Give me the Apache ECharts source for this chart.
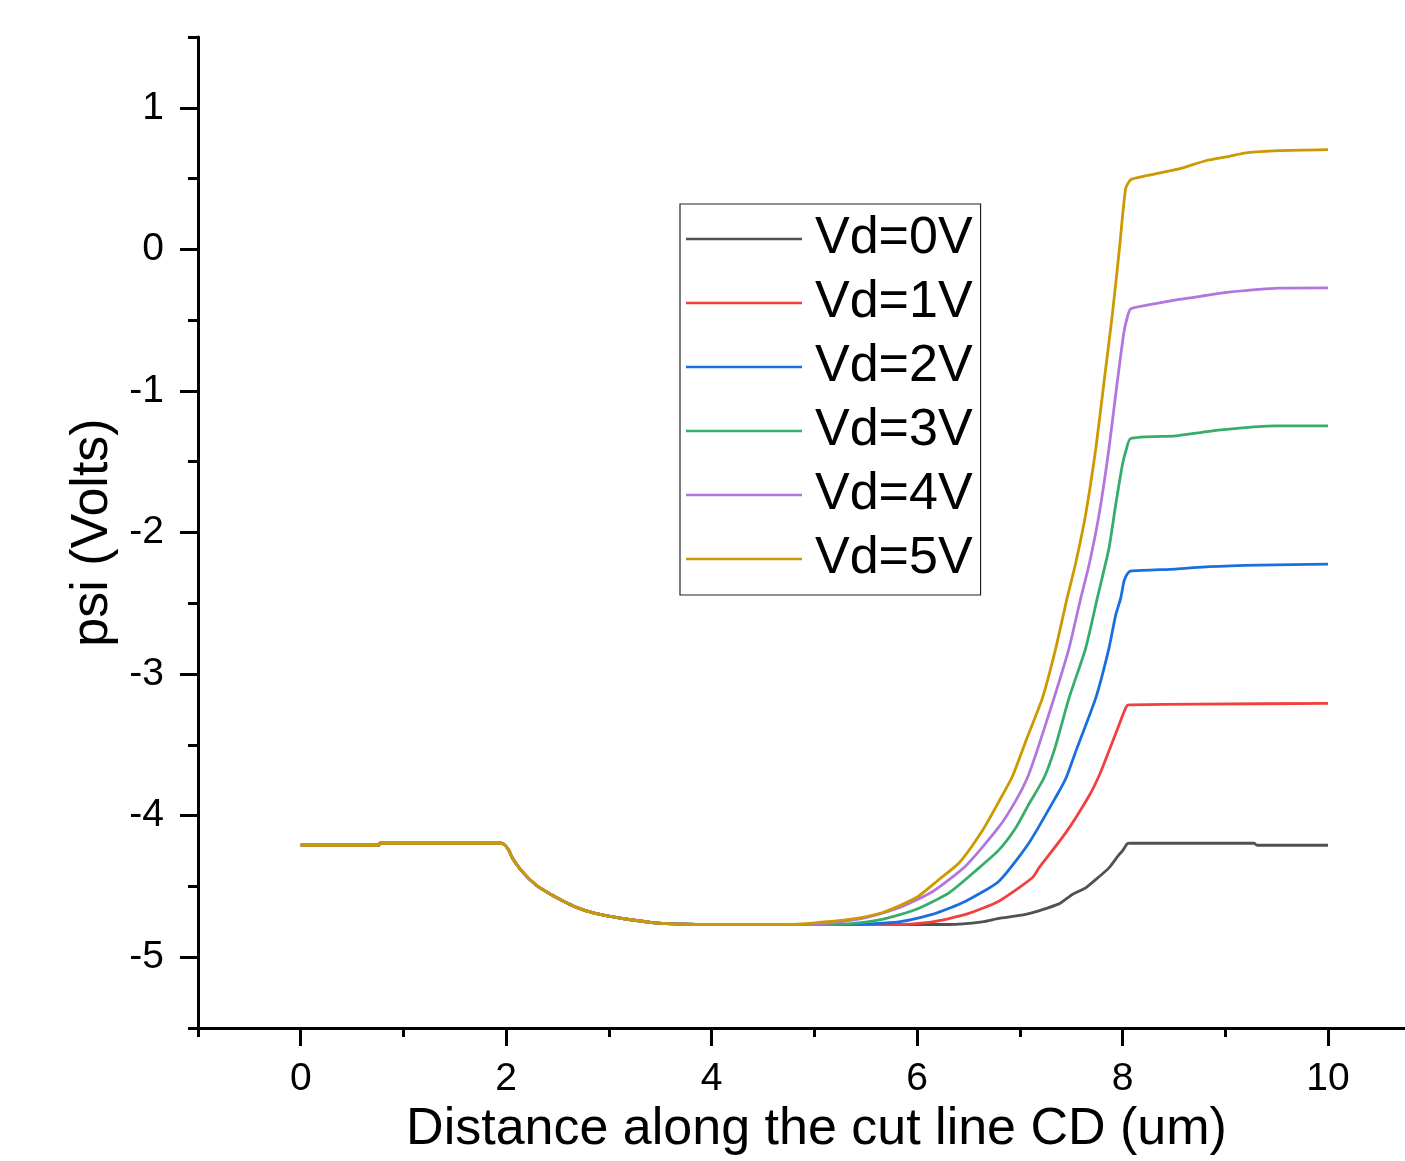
<!DOCTYPE html>
<html>
<head>
<meta charset="utf-8">
<script src="https://cdn.jsdelivr.net/npm/echarts@6/dist/echarts.min.js"></script>
<style>
html,body{margin:0;padding:0;background:#fff;}
#chart{width:1405px;height:1161px;}
</style>
</head>
<body>
<div id="chart"></div>
<script>
// ---- Data ----
const seriesNames = ['Vd=0V', 'Vd=1V', 'Vd=2V', 'Vd=3V', 'Vd=4V', 'Vd=5V'];
const seriesColors = ['#515151', '#F14040', '#1A6FDF', '#37AD6B', '#B177DE', '#CC9900'];

const xMajorTicks = [0, 2, 4, 6, 8, 10];
const xMinorTicks = [-1, 1, 3, 5, 7, 9];
const yMajorTicks = [-5, -4, -3, -2, -1, 0, 1];
const yMinorTicks = [-5.5, -4.5, -3.5, -2.5, -1.5, -0.5, 0.5, 1.5];

// shared part of every curve (x in um, psi in V)
const sharedPart = [
  [0, -4.209], [0.76, -4.209], [0.77, -4.195], [1.955, -4.195], [1.99, -4.21],
  [2.03, -4.25], [2.06, -4.30], [2.15, -4.39], [2.29, -4.49], [2.42, -4.55],
  [2.545, -4.60], [2.69, -4.65], [2.84, -4.685], [3.0, -4.71], [3.16, -4.73],
  [3.42, -4.755], [3.75, -4.767], [4.0, -4.769], [4.5, -4.769]
];

const riseVd0 = [
  [6.311, -4.769], [6.635, -4.750], [6.797, -4.726], [7.057, -4.698], [7.382, -4.623],
  [7.511, -4.557], [7.641, -4.510], [7.771, -4.432], [7.868, -4.369], [7.966, -4.275],
  [7.998, -4.251], [8.046, -4.199], [8.073, -4.195], [9.280, -4.195], [9.309, -4.209],
  [10, -4.209]
];
const riseVd1 = [
  [5.824, -4.769], [6.148, -4.750], [6.473, -4.698], [6.797, -4.604], [7.122, -4.439],
  [7.187, -4.369], [7.447, -4.122], [7.674, -3.861], [7.771, -3.720], [7.849, -3.579],
  [7.966, -3.360], [8.014, -3.268], [8.046, -3.221], [8.073, -3.217], [8.745, -3.212],
  [10, -3.207]
];
const riseVd2 = [
  [5.337, -4.769], [5.824, -4.750], [6.148, -4.698], [6.473, -4.604], [6.797, -4.463],
  [7.089, -4.193], [7.362, -3.854], [7.450, -3.734], [7.557, -3.523], [7.739, -3.170],
  [7.868, -2.818], [7.933, -2.585], [7.982, -2.465], [8.014, -2.345], [8.043, -2.296],
  [8.079, -2.272], [8.517, -2.258], [8.842, -2.241], [9.329, -2.230], [10, -2.223]
];
const riseVd3 = [
  [5.013, -4.769], [5.337, -4.764], [5.661, -4.733], [5.987, -4.663], [6.311, -4.545],
  [6.603, -4.369], [6.797, -4.242], [6.960, -4.087], [7.089, -3.918], [7.235, -3.734],
  [7.342, -3.523], [7.479, -3.170], [7.641, -2.818], [7.754, -2.465], [7.868, -2.112],
  [7.933, -1.807], [7.998, -1.525], [8.034, -1.421], [8.079, -1.336], [8.517, -1.317],
  [8.842, -1.285], [9.166, -1.261], [9.491, -1.247], [10, -1.247]
];
const riseVd4 = [
  [4.850, -4.769], [5.175, -4.757], [5.500, -4.721], [5.824, -4.651], [6.148, -4.538],
  [6.473, -4.355], [6.797, -4.080], [6.960, -3.896], [7.073, -3.734], [7.170, -3.537],
  [7.333, -3.170], [7.479, -2.818], [7.593, -2.465], [7.674, -2.230], [7.771, -1.877],
  [7.868, -1.407], [7.949, -0.937], [8.014, -0.584], [8.048, -0.476], [8.079, -0.420],
  [8.225, -0.396], [8.550, -0.354], [8.810, -0.326], [9.036, -0.302], [9.523, -0.274],
  [10, -0.272]
];
const riseVd5 = [
  [4.75, -4.769], [5.01, -4.757], [5.34, -4.733], [5.66, -4.686], [5.99, -4.580],
  [6.21, -4.453], [6.41, -4.333], [6.64, -4.101], [6.80, -3.896], [6.93, -3.720],
  [7.07, -3.452], [7.22, -3.170], [7.35, -2.818], [7.46, -2.465], [7.54, -2.230],
  [7.64, -1.877], [7.74, -1.407], [7.82, -0.937], [7.90, -0.467], [7.97, 0.004],
  [8.03, 0.427], [8.08, 0.492], [8.23, 0.520], [8.55, 0.568], [8.81, 0.626],
  [9.04, 0.657], [9.20, 0.681], [9.52, 0.697], [10, 0.704]
];
const riseParts = [riseVd0, riseVd1, riseVd2, riseVd3, riseVd4, riseVd5];

// ---- Chart ----
const FONT = '"Liberation Sans", Arial, sans-serif';
const chart = echarts.init(document.getElementById('chart'), null, {renderer: 'canvas'});

const axisLineStyle = {color: '#000', width: 3};

const option = {
  backgroundColor: '#fff',
  animation: false,
  textStyle: {fontFamily: FONT, color: '#000'},
  grid: {left: 198, right: 0, top: 37, bottom: 129, containLabel: false},
  legend: {
    orient: 'vertical',
    left: 680,
    top: 204,
    padding: [7, 8, 8, 6],
    borderColor: '#222',
    borderWidth: 1.2,
    icon: 'rect',
    itemWidth: 116,
    itemHeight: 2.6,
    itemGap: 8,
    data: seriesNames,
    textStyle: {fontSize: 52, fontFamily: FONT, color: '#000', lineHeight: 56, padding: [0, 0, 0, 8]}
  },
  xAxis: [
    {
      type: 'value', position: 'bottom', min: -1, max: 10.75, interval: 1,
      name: 'Distance along the cut line CD (um)', nameLocation: 'middle', nameGap: 76,
      nameTextStyle: {fontSize: 52, fontFamily: FONT, color: '#000', padding: [0, 0, 0, 30]},
      axisLine: {show: true, onZero: false, lineStyle: axisLineStyle},
      axisTick: {show: true, length: 18, lineStyle: {color: '#000', width: 3}, customValues: xMajorTicks},
      axisLabel: {show: true, fontSize: 39, fontFamily: FONT, color: '#000', margin: 32, customValues: xMajorTicks},
      splitLine: {show: false}
    },
    {
      type: 'value', position: 'bottom', offset: 0, min: -1, max: 10.75, interval: 1,
      axisLine: {show: false, onZero: false},
      axisTick: {show: true, length: 9, lineStyle: {color: '#000', width: 3}, customValues: xMinorTicks},
      axisLabel: {show: false},
      splitLine: {show: false}
    }
  ],
  yAxis: [
    {
      type: 'value', position: 'left', min: -5.5, max: 1.5, interval: 0.5,
      name: 'psi (Volts)', nameLocation: 'middle', nameGap: 76,
      nameTextStyle: {fontSize: 52, fontFamily: FONT, color: '#000'},
      axisLine: {show: true, onZero: false, lineStyle: axisLineStyle},
      axisTick: {show: true, length: 18, lineStyle: {color: '#000', width: 3}, customValues: yMajorTicks},
      axisLabel: {show: true, fontSize: 39, fontFamily: FONT, color: '#000', margin: 34, customValues: yMajorTicks},
      splitLine: {show: false}
    },
    {
      type: 'value', position: 'left', offset: 0, min: -5.5, max: 1.5, interval: 0.5,
      axisLine: {show: false, onZero: false},
      axisTick: {show: true, length: 10, lineStyle: {color: '#000', width: 3}, customValues: yMinorTicks},
      axisLabel: {show: false},
      splitLine: {show: false}
    }
  ],
  series: seriesNames.map((name, i) => ({
    name: name,
    type: 'line',
    xAxisIndex: 0,
    yAxisIndex: 0,
    symbol: 'none',
    smooth: 0.2,
    lineStyle: {color: seriesColors[i], width: 2.8},
    itemStyle: {color: seriesColors[i]},
    data: sharedPart.concat(riseParts[i]),
    z: 2 + i
  }))
};
chart.setOption(option);
</script>
</body>
</html>
